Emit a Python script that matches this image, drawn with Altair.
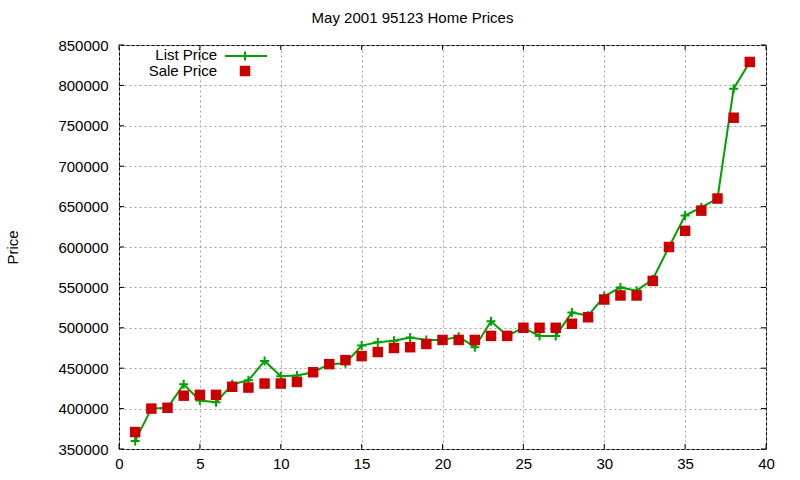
import altair as alt
import pandas as pd

idx = list(range(1, 40))
list_price = [360000, 400000, 401000, 430000, 410000, 408000, 430000, 435000, 459000, 440000,
              441000, 445000, 455000, 456000, 478000, 482000, 484000, 488000, 485000, 485000,
              489000, 476000, 508000, 490000, 500000, 490000, 490000, 519000, 515000, 539000,
              550000, 546000, 560000, 600000, 639000, 649000, 660000, 796000, 829000]
sale_price = [371000, 400000, 401000, 416000, 417000, 417000, 427000, 426000, 431000, 431000,
              433000, 445000, 455000, 460000, 465000, 470000, 475000, 476000, 480000, 485000,
              485000, 485000, 490000, 490000, 500000, 500000, 500000, 505000, 513000, 535000,
              540000, 540000, 558000, 600000, 620000, 645000, 660000, 760000, 829000]
x_ticks = [0, 5, 10, 15, 20, 25, 30, 35, 40]
y_ticks = [350000, 400000, 450000, 500000, 550000, 600000, 650000, 700000, 750000, 800000, 850000]

W, H = 647, 404
FONT = "Liberation Sans"
GREEN = "#00a000"
RED = "#cc0000"

df = pd.DataFrame({"x": idx, "list": list_price, "sale": sale_price})
xt = pd.DataFrame({"t": x_ticks})
yt = pd.DataFrame({"t": y_ticks})
one = pd.DataFrame({"a": [0]})

xs = alt.Scale(domain=[0, 40], nice=False, zero=False)
ys = alt.Scale(domain=[350000, 850000], nice=False, zero=False)
xa = alt.Axis(values=x_ticks, title=None, tickSize=0, domain=False, grid=True, labelPadding=7,
              labelFlush=False)
ya = alt.Axis(values=y_ticks, title="Price", tickSize=0, domain=False, grid=True, labelPadding=11,
              format="d", titleX=-107, titleY=H / 2, titleAngle=-90, titleAlign="center",
              titleBaseline="middle")

base = alt.Chart(df)

line = base.mark_line(color=GREEN, strokeWidth=2).encode(
    x=alt.X("x:Q", scale=xs, axis=xa), y=alt.Y("list:Q", scale=ys, axis=ya))
cross = "M-1,0L1,0M0,-1L0,1"
pts = base.mark_point(shape=cross, size=81, color=GREEN, strokeWidth=2, filled=False, opacity=1).encode(
    x=alt.X("x:Q", scale=xs, axis=xa), y=alt.Y("list:Q", scale=ys, axis=ya))
sq = base.mark_point(shape="square", size=110, color=RED, filled=True, opacity=1).encode(
    x=alt.X("x:Q", scale=xs, axis=xa), y=alt.Y("sale:Q", scale=ys, axis=ya))

TL = 5
tb = alt.Chart(xt).mark_rule(color="black", strokeWidth=1).encode(
    x=alt.X("t:Q", scale=xs, axis=xa), y=alt.value(H), y2=alt.value(H - TL))
tt = alt.Chart(xt).mark_rule(color="black", strokeWidth=1).encode(
    x=alt.X("t:Q", scale=xs, axis=xa), y=alt.value(0), y2=alt.value(TL))
tl = alt.Chart(yt).mark_rule(color="black", strokeWidth=1).encode(
    y=alt.Y("t:Q", scale=ys, axis=ya), x=alt.value(0), x2=alt.value(TL))
tr = alt.Chart(yt).mark_rule(color="black", strokeWidth=1).encode(
    y=alt.Y("t:Q", scale=ys, axis=ya), x=alt.value(W), x2=alt.value(W - TL))

leg_txt1 = alt.Chart(one).mark_text(align="right", baseline="middle", font=FONT, fontSize=15,
                                    color="black", text="List Price").encode(
    x=alt.value(98), y=alt.value(10))
leg_txt2 = alt.Chart(one).mark_text(align="right", baseline="middle", font=FONT, fontSize=15,
                                    color="black", text="Sale Price").encode(
    x=alt.value(98), y=alt.value(26))
leg_line = alt.Chart(one).mark_rule(color=GREEN, strokeWidth=2).encode(
    x=alt.value(106), x2=alt.value(148), y=alt.value(11))
leg_cross = alt.Chart(one).mark_point(shape=cross, size=81, color=GREEN, strokeWidth=2,
                                      filled=False, opacity=1).encode(
    x=alt.value(126), y=alt.value(11))
leg_sq = alt.Chart(one).mark_point(shape="square", size=110, color=RED, filled=True, opacity=1).encode(
    x=alt.value(126), y=alt.value(26))

chart = alt.layer(line, pts, sq, tb, tt, tl, tr, leg_txt1, leg_txt2, leg_line, leg_cross, leg_sq).properties(
    width=W, height=H,
    title=alt.TitleParams("May 2001 95123 Home Prices", font=FONT, fontSize=15, fontWeight="normal",
                          color="black", anchor="middle", dx=-30, offset=12),
    padding={"left": 119, "top": 45, "right": 34, "bottom": 31},
    autosize=alt.AutoSizeParams(type="none"),
    background="white",
).configure_view(stroke="black", strokeWidth=1).configure_axis(
    labelFont=FONT, labelFontSize=15, labelColor="black", titleFont=FONT, titleFontSize=15,
    titleFontWeight="normal", titleColor="black", gridColor="#a0a0a0", gridDash=[2, 3],
    gridWidth=1, gridOpacity=1,
)

chart.save("out.html", embed_options={"renderer": "svg", "actions": False})
